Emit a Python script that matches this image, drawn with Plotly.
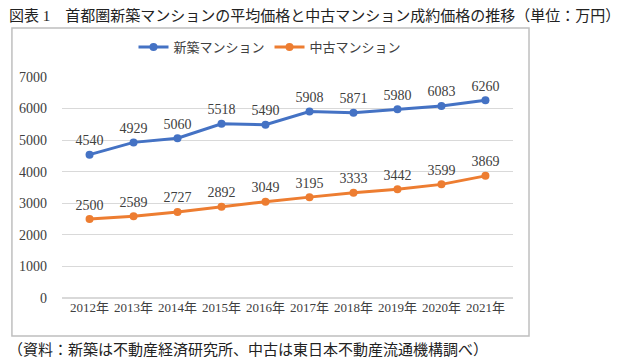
import plotly.graph_objects as go

years = ["2012年", "2013年", "2014年", "2015年", "2016年", "2017年", "2018年", "2019年", "2020年", "2021年"]
new_condo = [4540, 4929, 5060, 5518, 5490, 5908, 5871, 5980, 6083, 6260]
used_condo = [2500, 2589, 2727, 2892, 3049, 3195, 3333, 3442, 3599, 3869]
series_names = ["新築マンション", "中古マンション"]
colors = ["#4472C4", "#ED7D31"]

FONT = "Liberation Serif, DejaVu Serif, Noto Sans CJK JP, serif"

fig = go.Figure()
for name, vals, col in zip(series_names, [new_condo, used_condo], colors):
    fig.add_trace(go.Scatter(
        x=years, y=vals, name=name, mode="lines+markers+text",
        line=dict(color=col, width=3),
        marker=dict(color=col, size=8),
        text=[str(v) for v in vals], textposition="top center",
        textfont=dict(family=FONT, size=14, color="#404040"),
        cliponaxis=False,
    ))

fig.update_layout(
    width=630, height=363,
    margin=dict(l=62, r=117, t=77, b=65, autoexpand=False),
    paper_bgcolor="white", plot_bgcolor="white",
    font=dict(family=FONT, size=13, color="#595959"),
    showlegend=True,
    legend=dict(orientation="h", xref="container", yref="container",
                x=270 / 630, xanchor="center", y=1 - 47 / 363, yanchor="middle",
                font=dict(family=FONT, size=13, color="#404040"),
                itemwidth=30, traceorder="normal"),
    xaxis=dict(showgrid=False, showline=False, ticks="", tickangle=0,
               tickfont=dict(size=13, color="#404040")),
    yaxis=dict(range=[0, 7000], dtick=1000, showgrid=True, gridcolor="#d9d9d9", gridwidth=1,
               zeroline=True, zerolinecolor="#d9d9d9", showline=False, ticks="",
               tickfont=dict(size=14, color="#404040"), ticklabelstandoff=14),
    shapes=[dict(type="rect", xref="paper", yref="paper",
                 x0=-0.111, x1=1.0355, y0=-0.172, y1=1.222,
                 line=dict(color="#bfbfbf", width=1.5), fillcolor="rgba(0,0,0,0)", layer="above")],
    annotations=[
        dict(text="図表 1　首都圏新築マンションの平均価格と中古マンション成約価格の推移（単位：万円）",
             xref="paper", yref="paper", x=-0.122, y=1.28, xanchor="left", yanchor="middle",
             showarrow=False, font=dict(family=FONT, size=15, color="#222222")),
        dict(text="（資料：新築は不動産経済研究所、中古は東日本不動産流通機構調べ）",
             xref="paper", yref="paper", x=-0.124, y=-0.235, xanchor="left", yanchor="middle",
             showarrow=False, font=dict(family=FONT, size=15, color="#222222")),
    ],
)

fig.write_html("out.html", config={"displayModeBar": False},
               post_script="document.body.style.margin='0';")
